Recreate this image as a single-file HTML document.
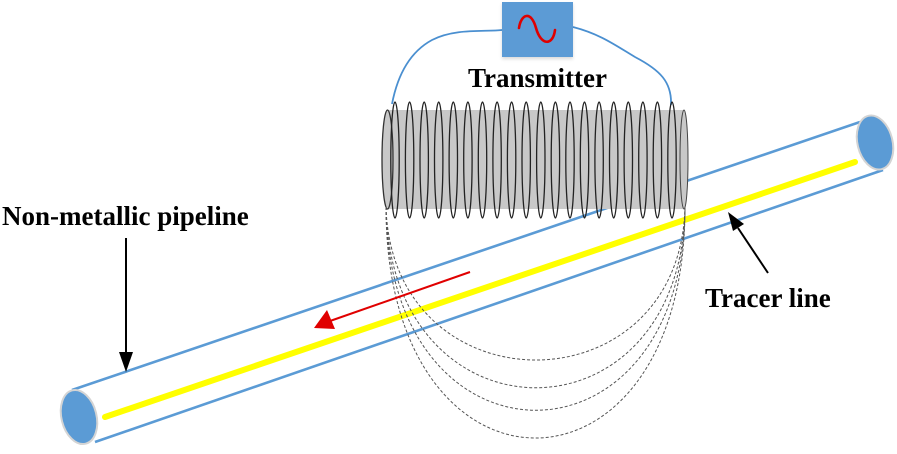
<!DOCTYPE html>
<html><head><meta charset="utf-8"><style>
html,body{margin:0;padding:0;background:#fff;}
svg{display:block;}
text{font-family:"Liberation Serif",serif;font-weight:bold;font-size:27px;fill:#000;}
</style></head><body>
<svg width="897" height="454" viewBox="0 0 897 454" xmlns="http://www.w3.org/2000/svg">
<defs>
<filter id="sh" x="-20%" y="-20%" width="140%" height="150%"><feDropShadow dx="0" dy="2" stdDeviation="1.5" flood-color="#000" flood-opacity="0.15"/></filter>
</defs>
<!-- pipe -->
<line x1="72" y1="390" x2="860" y2="122" stroke="#5b9bd5" stroke-width="2.6"/>
<line x1="95" y1="442" x2="883" y2="170" stroke="#5b9bd5" stroke-width="2.6"/>
<line x1="105" y1="417" x2="855" y2="162" stroke="#ffff00" stroke-width="6" stroke-linecap="round"/>
<ellipse cx="79" cy="417" rx="17.5" ry="27.5" transform="rotate(-14 79 417)" fill="#5b9bd5" stroke="#d4d4d4" stroke-width="2"/>
<ellipse cx="875" cy="142.5" rx="17.5" ry="27.5" transform="rotate(-14 875 142.5)" fill="#5b9bd5" stroke="#d4d4d4" stroke-width="2"/>

<!-- wires -->
<path d="M502,30 C 485,32 455,28 432,40 C 408,53 397,78 392,104" fill="none" stroke="#4a8fd0" stroke-width="1.8"/>
<path d="M573,27 C 600,34 615,45 635,57 C 660,70 672,82 671,105" fill="none" stroke="#4a8fd0" stroke-width="1.8"/>

<!-- transmitter box -->
<rect x="502" y="2" width="71" height="55" fill="#5b9bd5" filter="url(#sh)"/>
<path d="M519,28 C 521,14 531,10 536,28 C 541,46 553,46 555,30" fill="none" stroke="#e00000" stroke-width="2.6" stroke-linecap="round"/>
<text x="537.5" y="87" text-anchor="middle">Transmitter</text>

<!-- coil cylinder -->
<rect x="387" y="110" width="297" height="99" fill="#c8c8c8"/>
<ellipse cx="684" cy="159.5" rx="4" ry="49.5" fill="#c8c8c8" stroke="#444" stroke-width="1"/>
<ellipse cx="387.5" cy="159.5" rx="5.5" ry="49.5" fill="#c8c8c8" stroke="#333" stroke-width="1.3"/>
<g fill="none" stroke="#222" stroke-width="1.3">
<ellipse cx="395" cy="160" rx="4.2" ry="58"/>
<ellipse cx="409.6" cy="160" rx="4.2" ry="58"/>
<ellipse cx="424.2" cy="160" rx="4.2" ry="58"/>
<ellipse cx="438.7" cy="160" rx="4.2" ry="58"/>
<ellipse cx="453.3" cy="160" rx="4.2" ry="58"/>
<ellipse cx="467.9" cy="160" rx="4.2" ry="58"/>
<ellipse cx="482.5" cy="160" rx="4.2" ry="58"/>
<ellipse cx="497.1" cy="160" rx="4.2" ry="58"/>
<ellipse cx="511.6" cy="160" rx="4.2" ry="58"/>
<ellipse cx="526.2" cy="160" rx="4.2" ry="58"/>
<ellipse cx="540.8" cy="160" rx="4.2" ry="58"/>
<ellipse cx="555.4" cy="160" rx="4.2" ry="58"/>
<ellipse cx="570" cy="160" rx="4.2" ry="58"/>
<ellipse cx="584.5" cy="160" rx="4.2" ry="58"/>
<ellipse cx="599.1" cy="160" rx="4.2" ry="58"/>
<ellipse cx="613.7" cy="160" rx="4.2" ry="58"/>
<ellipse cx="628.3" cy="160" rx="4.2" ry="58"/>
<ellipse cx="642.9" cy="160" rx="4.2" ry="58"/>
<ellipse cx="657.4" cy="160" rx="4.2" ry="58"/>
<ellipse cx="672" cy="160" rx="4.2" ry="58"/>
</g>

<!-- field lines -->
<g fill="none" stroke="#555" stroke-width="1" stroke-dasharray="3,2">
<path d="M386,207 C 392,411 680,411 685,207"/>
<path d="M386,207 C 390,448 682,448 685,207"/>
<path d="M386,207 C 388,478 684,478 685,207"/>
<path d="M386,207 C 386,515 685,515 685,207"/>
</g>

<!-- red arrow -->
<line x1="470" y1="272" x2="330" y2="321" stroke="#e00000" stroke-width="2"/>
<polygon points="314,328 327,310 335,329" fill="#e00000"/>

<!-- label arrows -->
<line x1="126" y1="238" x2="126" y2="355" stroke="#000" stroke-width="2"/>
<polygon points="119,352 133,352 126,372" fill="#000"/>
<line x1="768" y1="273" x2="738" y2="228" stroke="#000" stroke-width="2"/>
<polygon points="728,212 744,224 733,231" fill="#000"/>

<text x="2" y="225">Non-metallic pipeline</text>
<text x="705" y="307">Tracer line</text>
</svg>
</body></html>
